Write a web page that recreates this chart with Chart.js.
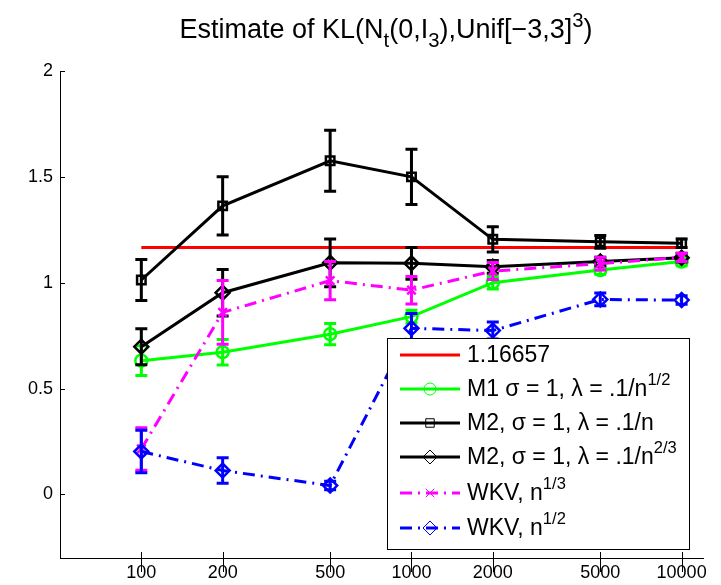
<!DOCTYPE html>
<html>
<head>
<meta charset="utf-8">
<script src="https://cdn.jsdelivr.net/npm/chart.js@4.4.1/dist/chart.umd.min.js"></script>
<style>
  html, body { margin: 0; padding: 0; background: #fff; }
  #wrap { width: 721px; height: 585px; position: relative; }
</style>
</head>
<body>
<div id="wrap"><canvas id="klChart"></canvas></div>
<script>
// sample sizes and estimates
const nValues = [100, 200, 500, 1000, 2000, 5000, 10000];
const trueKL = 1.16657;
const m1Mean = [0.632, 0.672, 0.757, 0.840, 1.000, 1.060, 1.100];
const m1Err = [0.07, 0.06, 0.05, 0.03, 0.03, 0.02, 0.02];
const m2nMean = [1.013, 1.363, 1.576, 1.500, 1.205, 1.193, 1.187];
const m2nErr = [0.097, 0.137, 0.144, 0.13, 0.06, 0.03, 0.02];
const m2n23Mean = [0.698, 0.953, 1.094, 1.092, 1.075, 1.100, 1.118];
const m2n23Err = [0.085, 0.11, 0.113, 0.075, 0.03, 0.02, 0.02];
const wkv3Mean = [0.215, 0.86, 1.01, 0.965, 1.055, 1.09, 1.12];
const wkv3Err = [0.1, 0.15, 0.09, 0.065, 0.04, 0.03, 0.02];
const wkv2Mean = [0.203, 0.113, 0.042, 0.785, 0.774, 0.921, 0.918];
const wkv2Err = [0.1, 0.06, 0.02, 0.07, 0.04, 0.03, 0.02];

const xTicks = [100, 200, 500, 1000, 2000, 5000, 10000];
const yTicks = [0, 0.5, 1, 1.5, 2];

const legendText = ["1.16657", "M1 σ = 1, λ = .1/n", "M2, σ = 1, λ = .1/n", "M2, σ = 1, λ = .1/n", "WKV, n", "WKV, n"];
const legendSup = ["", "1/2", "", "2/3", "1/3", "1/2"];

const FONT = "'Liberation Sans', Arial, sans-serif";
const dashDot = [12, 6, 2, 6];

function pts(ys) {
  return nValues.map((n, i) => ({ x: n, y: ys[i] }));
}

const errs = [null, m1Err, m2nErr, m2n23Err, wkv3Err, wkv2Err];

const datasets = [
  { label: legendText[0], data: [{ x: 100, y: trueKL }, { x: 10000, y: trueKL }],
    borderColor: "#ff0000", borderWidth: 3, pointRadius: 0 },
  { label: legendText[1], data: pts(m1Mean), borderColor: "#00ff00", borderWidth: 3,
    pointStyle: "circle", pointRadius: 6 },
  { label: legendText[2], data: pts(m2nMean), borderColor: "#000000", borderWidth: 3,
    pointStyle: "rect", pointRadius: 6 },
  { label: legendText[3], data: pts(m2n23Mean), borderColor: "#000000", borderWidth: 3,
    pointStyle: "rectRot", pointRadius: 7 },
  { label: legendText[4], data: pts(wkv3Mean), borderColor: "#ff00ff", borderWidth: 3,
    borderDash: dashDot, pointStyle: "crossRot", pointRadius: 6 },
  { label: legendText[5], data: pts(wkv2Mean), borderColor: "#0000ff", borderWidth: 3,
    borderDash: dashDot, pointStyle: "rectRot", pointRadius: 7 }
];
datasets.forEach((d, i) => {
  d.order = datasets.length - i;
  d.pointBorderColor = d.borderColor;
  d.pointBackgroundColor = "rgba(0,0,0,0)";
  d.pointBorderWidth = 2.5;
  d.fill = false;
  d.tension = 0;
});

// draw text runs: [text, shift] (shift -1 subscript, 1 superscript)
function drawRuns(ctx, runs, x, y, size, small) {
  let cx = x;
  runs.forEach(([txt, shift]) => {
    const s = shift ? size * small : size;
    ctx.font = s + "px " + FONT;
    const dy = shift === 1 ? -size * 0.42 : shift === -1 ? size * 0.32 : 0;
    ctx.fillText(txt, cx, y + dy);
    cx += ctx.measureText(txt).width;
  });
  return cx - x;
}
function runsWidth(ctx, runs, size, small) {
  let w = 0;
  runs.forEach(([txt, shift]) => {
    ctx.font = (shift ? size * small : size) + "px " + FONT;
    w += ctx.measureText(txt).width;
  });
  return w;
}

const matlabPlugin = {
  id: "matlab",
  beforeDatasetsDraw(chart) {
    const ctx = chart.ctx, a = chart.chartArea;
    const xs = chart.scales.x, ys = chart.scales.y;
    ctx.save();
    ctx.strokeStyle = "#000";
    ctx.lineWidth = 1;
    ctx.beginPath();
    xTicks.forEach(v => {
      const px = Math.round(xs.getPixelForValue(v)) + 0.5;
      ctx.moveTo(px, a.bottom - 6); ctx.lineTo(px, a.bottom + 14);
    });
    yTicks.forEach(v => {
      const py = Math.round(ys.getPixelForValue(v)) + 0.5;
      ctx.moveTo(a.left, py); ctx.lineTo(a.left + 5, py);
    });
    ctx.stroke();
    ctx.restore();
  },
  afterDatasetDraw(chart, args) {
    const err = errs[args.index];
    if (!err) return;
    const ctx = chart.ctx;
    const xs = chart.scales.x, ys = chart.scales.y;
    const ds = chart.data.datasets[args.index];
    ctx.save();
    ctx.strokeStyle = ds.borderColor;
    ctx.lineWidth = 3;
    ctx.setLineDash([]);
    ds.data.forEach((p, i) => {
      const px = xs.getPixelForValue(p.x);
      const top = ys.getPixelForValue(p.y + err[i]);
      const bot = ys.getPixelForValue(p.y - err[i]);
      ctx.beginPath();
      ctx.moveTo(px, top); ctx.lineTo(px, bot);
      ctx.moveTo(px - 6, top); ctx.lineTo(px + 6, top);
      ctx.moveTo(px - 6, bot); ctx.lineTo(px + 6, bot);
      ctx.stroke();
    });
    ctx.restore();
  },
  afterDraw(chart) {
    const ctx = chart.ctx;
    ctx.save();
    // title
    const titleRuns = [["Estimate of KL(N", 0], ["t", -1], ["(0,I", 0], ["3", -1],
      ["),Unif[\u22123,3]", 0], ["3", 1], [")", 0]];
    const tSize = 27;
    const tw = runsWidth(ctx, titleRuns, tSize, 0.75);
    ctx.fillStyle = "#000";
    ctx.textBaseline = "alphabetic";
    drawRuns(ctx, titleRuns, 386 - tw / 2, 38, tSize, 0.75);

    // legend box
    const bx = 387, by = 338, bw = 302, bh = 211;
    ctx.fillStyle = "#fff";
    ctx.fillRect(bx, by, bw, bh);
    ctx.strokeStyle = "#000";
    ctx.lineWidth = 1;
    ctx.strokeRect(bx + 0.5, by + 0.5, bw, bh);
    const rowY = [355, 389, 423, 457, 493, 528];
    chart.data.datasets.forEach((ds, i) => {
      const y = rowY[i];
      ctx.strokeStyle = ds.borderColor;
      ctx.lineWidth = 3;
      ctx.setLineDash(ds.borderDash || []);
      ctx.beginPath();
      ctx.moveTo(400, y); ctx.lineTo(460, y);
      ctx.stroke();
      ctx.setLineDash([]);
      if (ds.pointRadius) {
        ctx.fillStyle = "rgba(0,0,0,0)";
        ctx.strokeStyle = ds.borderColor;
        ctx.lineWidth = 1;
        Chart.helpers.drawPoint(ctx, {
          pointStyle: ds.pointStyle, radius: ds.pointRadius, borderWidth: 1, rotation: 0
        }, 430, y);
      }
      ctx.fillStyle = "#000";
      ctx.textBaseline = "middle";
      const runs = [[legendText[i], 0]];
      if (legendSup[i]) runs.push([legendSup[i], 1]);
      drawRuns(ctx, runs, 467, y + 1, 23, 0.72);
    });
    ctx.restore();
  }
};

const config = {
  type: "line",
  data: { datasets: datasets },
  options: {
    responsive: true,
    maintainAspectRatio: false,
    animation: false,
    layout: { padding: { top: 71, right: 18, left: 0, bottom: 0 } },
    scales: {
      x: {
        type: "logarithmic",
        min: 50,
        max: 12000,
        afterBuildTicks: s => { s.ticks = xTicks.map(v => ({ value: v })); },
        afterFit: s => { s.height = 27; },
        grid: { display: true, drawOnChartArea: false, drawTicks: false },
        border: { display: true, color: "#000", width: 1 },
        ticks: { color: "#000", font: { family: FONT, size: 18 }, padding: 4,
          maxRotation: 0, autoSkip: false, callback: v => String(v) }
      },
      y: {
        min: -0.3,
        max: 2,
        afterBuildTicks: s => { s.ticks = yTicks.map(v => ({ value: v })); },
        afterFit: s => { s.width = 60; },
        grid: { display: true, drawOnChartArea: false, drawTicks: false },
        border: { display: true, color: "#000", width: 1 },
        ticks: { color: "#000", font: { family: FONT, size: 18 }, padding: 7,
          callback: v => String(v) }
      }
    },
    plugins: {
      legend: { display: false },
      title: { display: false },
      tooltip: { enabled: false }
    }
  },
  plugins: [matlabPlugin]
};

new Chart(document.getElementById("klChart").getContext("2d"), config);
</script>
</body>
</html>
